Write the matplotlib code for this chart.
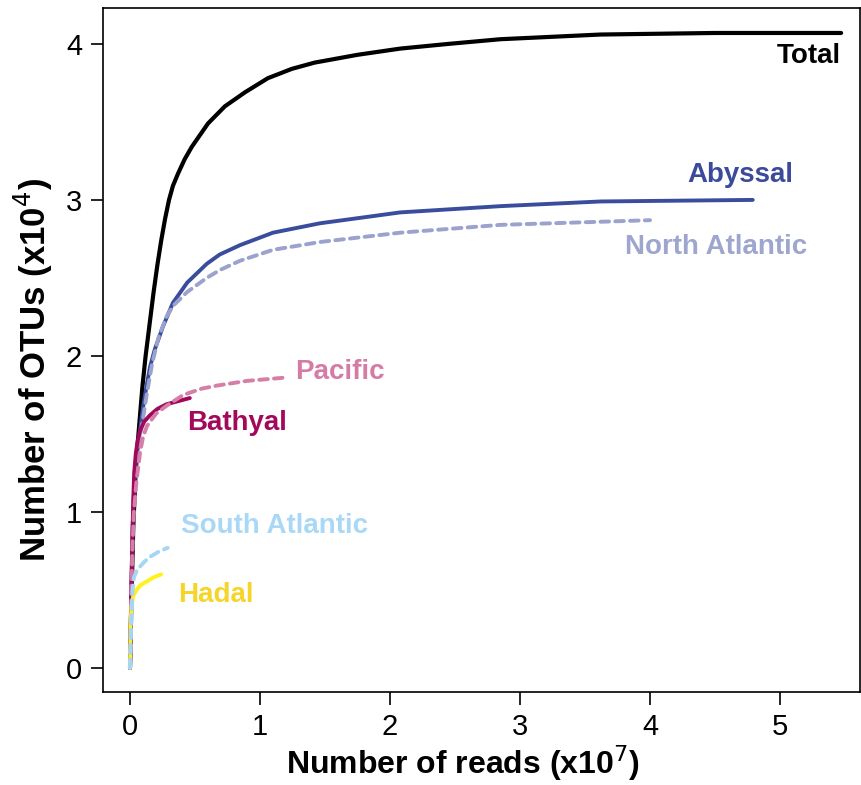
import matplotlib.pyplot as plt

# rarefaction curves, x in 1e7 reads, y in 1e4 OTUs
total_x = [0, 0.01, 0.025, 0.04, 0.055, 0.075, 0.095, 0.12, 0.15, 0.18, 0.21, 0.24, 0.27, 0.3, 0.33, 0.37,
           0.42, 0.475, 0.6, 0.73, 0.885, 1.06, 1.245, 1.42, 1.75, 2.08, 2.45, 2.85, 3.62, 4.5, 5.47]
total_y = [0, 0.4, 0.9, 1.2, 1.4, 1.6, 1.8, 2.0, 2.2, 2.4, 2.58, 2.74, 2.88, 3.0, 3.09, 3.17,
           3.26, 3.34, 3.49, 3.6, 3.69, 3.78, 3.84, 3.88, 3.93, 3.97, 4.0, 4.03, 4.06, 4.07, 4.07]

abyssal_x = [0, 0.01, 0.02, 0.035, 0.05, 0.077, 0.10, 0.13, 0.154, 0.19, 0.254, 0.33, 0.44, 0.59, 0.69,
             0.846, 1.1, 1.46, 2.08, 2.85, 3.62, 4.79]
abyssal_y = [0, 0.5, 0.9, 1.2, 1.36, 1.52, 1.67, 1.82, 1.93, 2.04, 2.19, 2.34, 2.47, 2.59, 2.65,
             2.71, 2.79, 2.85, 2.92, 2.96, 2.99, 3.0]

natl_x = [0, 0.01, 0.02, 0.035, 0.05, 0.077, 0.1, 0.13, 0.17, 0.22, 0.28, 0.33, 0.44, 0.59, 0.69,
          0.846, 1.1, 1.46, 2.08, 2.85, 3.62, 4.0]
natl_y = [0, 0.5, 0.9, 1.2, 1.34, 1.48, 1.6, 1.76, 1.95, 2.12, 2.25, 2.32, 2.41, 2.5, 2.55,
          2.61, 2.68, 2.73, 2.79, 2.84, 2.86, 2.87]

bathyal_x = [0, 0.01, 0.02, 0.025, 0.032, 0.045, 0.06, 0.077, 0.11, 0.154, 0.21, 0.28, 0.37, 0.46]
bathyal_y = [0, 0.5, 0.9, 1.08, 1.25, 1.38, 1.46, 1.52, 1.58, 1.62, 1.66, 1.69, 1.71, 1.73]

pacific_x = [0, 0.01, 0.02, 0.03, 0.05, 0.077, 0.1, 0.13, 0.2, 0.28, 0.41, 0.55, 0.67, 0.9, 1.18]
pacific_y = [0, 0.5, 0.8, 1.0, 1.2, 1.38, 1.48, 1.55, 1.63, 1.68, 1.75, 1.79, 1.81, 1.84, 1.86]

satl_x = [0, 0.01, 0.02, 0.03, 0.05, 0.077, 0.11, 0.15, 0.22, 0.29]
satl_y = [0, 0.3, 0.5, 0.58, 0.62, 0.65, 0.68, 0.71, 0.745, 0.77]

hadal_x = [0, 0.005, 0.012, 0.025, 0.05, 0.08, 0.12, 0.18, 0.24]
hadal_y = [0, 0.3, 0.4, 0.46, 0.5, 0.53, 0.55, 0.58, 0.60]

plt.rcParams['font.family'] = ['Liberation Sans', 'DejaVu Sans']

fig = plt.figure(figsize=(8.61, 7.85), dpi=100)
ax = fig.add_axes([0.1196, 0.1185, 0.8792, 0.8713])

dash = (0, (2.2, 1.6))
ax.plot(total_x, total_y, color='black', lw=3, solid_capstyle='round', solid_joinstyle='round')
ax.plot(abyssal_x, abyssal_y, color='#3a4d9c', lw=2.8, solid_capstyle='round', solid_joinstyle='round')
ax.plot(natl_x, natl_y, color='#9aa2cd', lw=2.8, ls=dash, dash_capstyle='round')
ax.plot(bathyal_x, bathyal_y, color='#a1085a', lw=2.8, solid_capstyle='round', solid_joinstyle='round')
ax.plot(pacific_x, pacific_y, color='#d47ea8', lw=2.8, ls=dash, dash_capstyle='round')
ax.plot(hadal_x, hadal_y, color='#fff21c', lw=2.8, solid_capstyle='round', solid_joinstyle='round')
ax.plot(satl_x, satl_y, color='#a6d6f4', lw=2.8, ls=dash, dash_capstyle='round')

lab = dict(fontsize=20, fontweight='bold', va='center')
ax.text(5.47, 4.07 - 0.15, 'Total', color='black', ha='right', **lab)
ax.text(4.29, 3.16, 'Abyssal', color='#3b4a9b', ha='left', **lab)
ax.text(3.81, 2.70, 'North Atlantic', color='#9ea5ce', ha='left', **lab)
ax.text(1.27, 1.9, 'Pacific', color='#d47ca6', ha='left', **lab)
ax.text(0.44, 1.57, 'Bathyal', color='#a3095a', ha='left', **lab)
ax.text(0.39, 0.91, 'South Atlantic', color='#a8d8f5', ha='left', **lab)
ax.text(0.37, 0.47, 'Hadal', color='#f7d42a', ha='left', **lab)

ax.set_xlim(-0.208, 5.615)
ax.set_ylim(-0.154, 4.23)
ax.set_xticks([0, 1, 2, 3, 4, 5])
ax.set_yticks([0, 1, 2, 3, 4])
ax.tick_params(length=9, width=1.2, labelsize=21, pad=6)
for s in ax.spines.values():
    s.set_linewidth(1.2)

ax.set_xlabel('Number of reads (x10$^{7}$)', fontsize=23, fontweight='bold', labelpad=2)
ax.set_ylabel('Number of OTUs (x10$^{4}$)', fontsize=25, fontweight='bold', labelpad=8)
ax.xaxis.label.set_x(0.4756)
ax.yaxis.label.set_y(0.4708)

fig.savefig('out.png', dpi=100)
